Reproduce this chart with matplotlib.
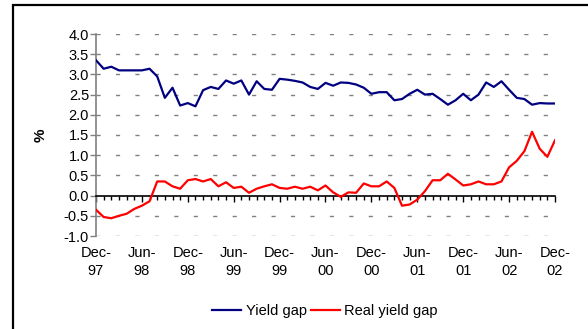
import numpy as np
import matplotlib.pyplot as plt
from matplotlib.patches import Rectangle

plt.rcParams['font.family'] = ['Liberation Sans', 'DejaVu Sans']

#Monthly data, Dec-97 .. Dec-02
yield_gap = [3.35, 3.14, 3.19, 3.10, 3.10, 3.10, 3.10, 3.14, 2.95, 2.42,
             2.67, 2.23, 2.29, 2.21, 2.61, 2.69, 2.64, 2.85, 2.77, 2.85,
             2.50, 2.83, 2.64, 2.62, 2.89, 2.87, 2.84, 2.80, 2.69, 2.64,
             2.79, 2.72, 2.80, 2.79, 2.75, 2.67, 2.52, 2.56, 2.56, 2.36,
             2.39, 2.52, 2.62, 2.50, 2.52, 2.39, 2.25, 2.36, 2.52, 2.36,
             2.50, 2.80, 2.69, 2.83, 2.62, 2.42, 2.39, 2.25, 2.29, 2.28,
             2.28]
real_yield_gap = [-0.35, -0.53, -0.56, -0.50, -0.45, -0.33, -0.25, -0.14, 0.35, 0.35,
                  0.23, 0.17, 0.38, 0.41, 0.35, 0.41, 0.23, 0.33, 0.19, 0.22,
                  0.07, 0.17, 0.23, 0.28, 0.19, 0.17, 0.22, 0.17, 0.22, 0.13,
                  0.25, 0.08, -0.03, 0.08, 0.07, 0.30, 0.23, 0.23, 0.35, 0.19,
                  -0.25, -0.22, -0.10, 0.11, 0.38, 0.38, 0.54, 0.40, 0.25, 0.28,
                  0.35, 0.28, 0.28, 0.35, 0.70, 0.86, 1.10, 1.58, 1.16, 0.96,
                  1.37]
tick_labels = ['Dec-\n97', 'Jun-\n98', 'Dec-\n98', 'Jun-\n99', 'Dec-\n99', 'Jun-\n00',
               'Dec-\n00', 'Jun-\n01', 'Dec-\n01', 'Jun-\n02', 'Dec-\n02']
yticks = np.arange(-1.0, 4.01, 0.5)

fs = 10.5
W, H = 588, 329
fig = plt.figure(figsize=(W/100, H/100), dpi=100)
ax = fig.add_axes([96/W, (H-236)/H, (555-96)/W, (236-34)/H])

x = np.arange(len(yield_gap))
ax.plot(x, yield_gap, color='#000080', lw=1.6, label='Yield gap', zorder=3)
ax.plot(x, real_yield_gap, color='#FF0000', lw=1.6, label='Real yield gap', zorder=3)

ax.set_xlim(0, 60)
ax.set_ylim(-1, 4)

#dashed gridlines
for yv in yticks:
    if abs(yv) < 1e-9:
        continue
    ax.plot([0, 59.3], [yv, yv], color='#808080', lw=1.0,
            dashes=(3.0, 11.0), dash_capstyle='butt', zorder=1)

for s in ['top', 'right']:
    ax.spines[s].set_visible(False)
ax.spines['left'].set_color('#808080')
ax.spines['left'].set_linewidth(1.2)
ax.spines['bottom'].set_position(('data', 0))
ax.spines['bottom'].set_color('black')
ax.spines['bottom'].set_linewidth(1.2)

ax.set_yticks(yticks)
ax.set_yticklabels(['%.1f' % v for v in yticks], fontsize=fs)
ax.tick_params(axis='y', direction='out', length=4, width=1, color='#808080', pad=1)

ax.set_xticks(np.arange(0, 61, 6))
ax.set_xticks(np.arange(0, 61, 1), minor=True)
ax.set_xticklabels([])
ax.tick_params(axis='x', which='major', direction='out', length=4, width=1, color='black')
ax.tick_params(axis='x', which='minor', direction='out', length=3, width=1, color='black')

sec = ax.secondary_xaxis(0.0)
sec.set_xticks(np.arange(0, 61, 6))
sec.set_xticklabels(tick_labels, fontsize=fs, linespacing=1.4)
sec.tick_params(length=0, pad=7)
sec.spines['bottom'].set_visible(False)

ax.set_ylabel('%', fontsize=11, fontweight='bold', labelpad=12)

fig.legend(loc='center', bbox_to_anchor=(325/W, 1-311/H), ncol=2, frameon=False,
           fontsize=fs, handlelength=2.0, handletextpad=0.3, columnspacing=0.3)

#outer frame
fig.patches.append(Rectangle((13/W, -0.1), 1.0, 1.1 - 5/H, transform=fig.transFigure,
                             fill=False, lw=1.6, ec='black'))

fig.savefig('out.png', dpi=100)
